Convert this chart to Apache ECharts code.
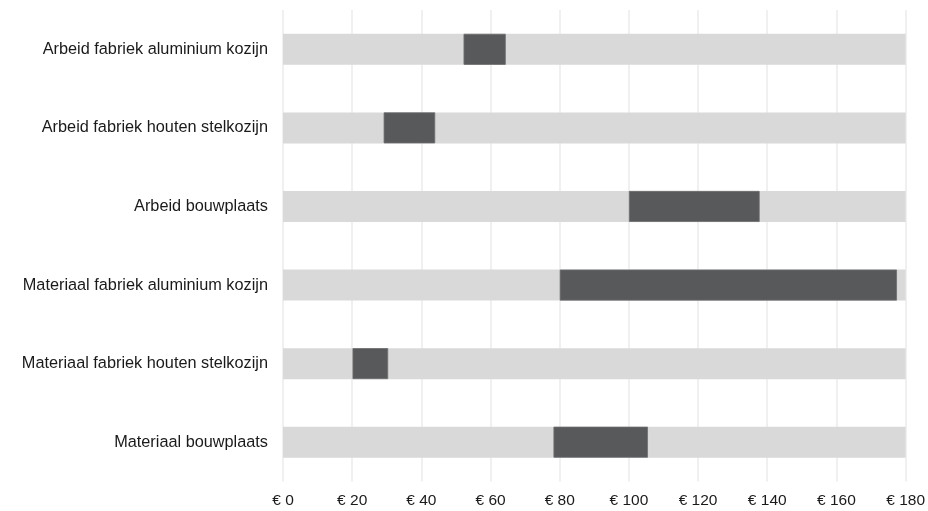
<!DOCTYPE html>
<html><head><meta charset="utf-8">
<script src="https://cdn.jsdelivr.net/npm/echarts@6/dist/echarts.min.js"></script>
<style>html,body{margin:0;padding:0;background:#fff}#c{width:928px;height:511px}</style>
</head><body><div id="c"></div>
<script>
const categories = ["Arbeid fabriek aluminium kozijn","Arbeid fabriek houten stelkozijn","Arbeid bouwplaats","Materiaal fabriek aluminium kozijn","Materiaal fabriek houten stelkozijn","Materiaal bouwplaats"];
const startValues = [52.2, 29.1, 100, 80, 20.1, 78.2];
const endValues = [64.4, 44.0, 137.8, 177.5, 30.4, 105.5];
const tickLabels = ["€ 0","€ 20","€ 40","€ 60","€ 80","€ 100","€ 120","€ 140","€ 160","€ 180"];

const chart = echarts.init(document.getElementById('c'));
chart.setOption({
  animation:false,
  grid:{left:283,right:21,top:10,bottom:29.5,containLabel:false},
  xAxis:{type:'value',min:0,max:180,interval:20,
    axisLine:{show:false},axisTick:{show:false},
    splitLine:{show:true,lineStyle:{color:'#ebebeb',width:1.5}},
    axisLabel:{color:'#1a1a1a',fontSize:15.5,fontFamily:'Liberation Sans, Arial',margin:11,
      formatter:(v)=>tickLabels[Math.round(v/20)]}},
  yAxis:{type:'category',data:categories,inverse:true,
    axisLine:{show:false},axisTick:{show:false},
    axisLabel:{color:'#1a1a1a',fontSize:16.3,fontFamily:'Liberation Sans, Arial',margin:15}},
  series:[
    {type:'bar',stack:'s',data:startValues,barWidth:31,itemStyle:{color:'transparent'},
     showBackground:true,backgroundStyle:{color:'#d9d9d9'},silent:true},
    {type:'bar',stack:'s',data:endValues.map((e,i)=>+(e-startValues[i]).toFixed(2)),barWidth:31,
     itemStyle:{color:'#58595b',borderColor:'#6d6e70',borderWidth:0.8}}
  ]
});
</script></body></html>
